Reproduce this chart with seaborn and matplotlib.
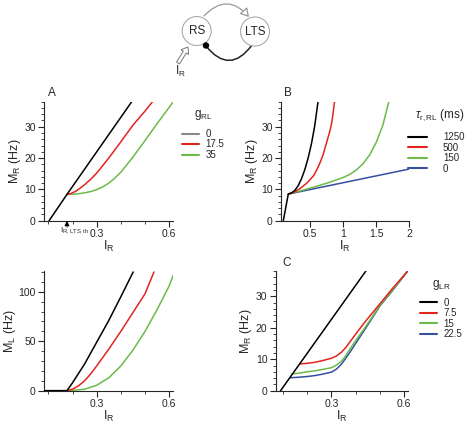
import numpy as np
import pandas as pd
import matplotlib
matplotlib.use("Agg")
import matplotlib.pyplot as plt
import matplotlib.patches as mpatches
from matplotlib.lines import Line2D
from matplotlib.ticker import MultipleLocator
import seaborn as sns

# ---- data ----
# panel A: M_R vs I_R for several g_RL
gRL_labels = ["0", "17.5", "35"]
A_I_0 = [0.103, 0.177, 0.445]
A_M_0 = [0, 8.4, 38]
A_I_175 = [0.177, 0.19, 0.2, 0.215, 0.23, 0.25, 0.275, 0.3, 0.35, 0.4, 0.45, 0.5, 0.531]
A_M_175 = [8.4, 8.6, 8.9, 9.5, 10.3, 11.5, 13.2, 15.2, 20.0, 25.2, 30.5, 35.0, 38.0]
A_I_35 = [0.177, 0.2, 0.225, 0.25, 0.275, 0.3, 0.325, 0.35, 0.375, 0.4, 0.45, 0.5, 0.55, 0.617]
A_M_35 = [8.4, 8.45, 8.6, 8.9, 9.3, 9.9, 10.8, 12.0, 13.6, 15.5, 20.3, 25.6, 31.0, 38.0]

# panel B: M_R vs I_R for several tau_r,RL
tau_labels = ["1250", "500", "150", "0"]
B_I_1250 = [0.095, 0.17, 0.22, 0.27, 0.32, 0.37, 0.42, 0.47, 0.52, 0.57, 0.62]
B_M_1250 = [0, 8.5, 8.9, 9.7, 11.2, 13.4, 16.3, 20.0, 24.5, 30.3, 38.0]
B_I_500 = [0.17, 0.25, 0.35, 0.45, 0.55, 0.6, 0.65, 0.7, 0.75, 0.8, 0.83, 0.87]
B_M_500 = [8.5, 9.0, 10.3, 12.0, 14.3, 16.2, 18.5, 21.3, 25.0, 28.7, 31.6, 38.0]
B_I_150 = [0.17, 0.4, 0.6, 0.8, 1.0, 1.1, 1.2, 1.3, 1.4, 1.5, 1.6, 1.69]
B_M_150 = [8.5, 9.8, 11.0, 12.3, 13.8, 14.8, 16.2, 18.2, 21.0, 25.0, 30.5, 38.0]
B_I_0 = [0.17, 2.0]
B_M_0 = [8.5, 16.5]

# bottom left: M_L vs I_R for g_RL
L_I_0 = [0.082, 0.177, 0.2, 0.25, 0.3, 0.35, 0.4, 0.451]
L_M_0 = [0, 0, 8, 27, 49, 71, 95, 120]
L_I_175 = [0.082, 0.177, 0.2, 0.225, 0.25, 0.275, 0.3, 0.35, 0.4, 0.45, 0.5, 0.537]
L_M_175 = [0, 0, 1.5, 5, 10, 17, 25, 42, 60, 79, 98, 120]
L_I_35 = [0.082, 0.177, 0.2, 0.25, 0.3, 0.35, 0.4, 0.45, 0.5, 0.55, 0.6, 0.617]
L_M_35 = [0, 0, 0.3, 1.5, 5.5, 13, 25, 41, 60, 82, 106, 117]

# panel C: M_R vs I_R for several g_LR
gLR_labels = ["0", "7.5", "15", "22.5"]
C_I_0 = [0.09, 0.442]
C_M_0 = [0, 38]
C_I_75 = [0.169, 0.2, 0.231, 0.26, 0.3, 0.32, 0.341, 0.36, 0.383, 0.41, 0.438, 0.5, 0.55, 0.617]
C_M_75 = [8.5, 8.7, 9.0, 9.5, 10.3, 11.0, 12.2, 13.8, 16.2, 19.0, 21.8, 27.6, 32.3, 38.2]
C_I_15 = [0.135, 0.17, 0.2, 0.231, 0.26, 0.3, 0.32, 0.341, 0.36, 0.383, 0.41, 0.44, 0.5, 0.55, 0.617]
C_M_15 = [5.3, 5.6, 6.0, 6.3, 6.7, 7.3, 8.1, 9.3, 11.2, 14.0, 17.0, 20.2, 27.1, 31.8, 38.2]
C_I_225 = [0.128, 0.17, 0.2, 0.231, 0.26, 0.3, 0.32, 0.341, 0.36, 0.383, 0.41, 0.44, 0.5, 0.55, 0.617]
C_M_225 = [4.1, 4.3, 4.5, 4.8, 5.2, 5.9, 6.8, 8.4, 10.4, 13.0, 16.2, 19.7, 26.9, 31.6, 38.2]

BLACK, RED, GREEN, BLUE = "#000000", "#e3241e", "#6cba4a", "#34509e"

sns.set_theme(style="ticks")
plt.rcParams["font.family"] = ["Liberation Sans", "DejaVu Sans"]
plt.rcParams["mathtext.fontset"] = "custom"
plt.rcParams["mathtext.rm"] = "Liberation Sans"
plt.rcParams["mathtext.it"] = "Liberation Sans:italic"
plt.rcParams["axes.linewidth"] = 0.8
plt.rcParams["xtick.major.width"] = 0.8
plt.rcParams["ytick.major.width"] = 0.8
plt.rcParams["xtick.minor.width"] = 0.6
plt.rcParams["ytick.minor.width"] = 0.6

W, H = 467, 428
fig = plt.figure(figsize=(W / 100, H / 100), dpi=100)


def box(l, t, r, b):
    return [l / W, 1 - b / H, (r - l) / W, (b - t) / H]


def to_df(series):
    rows = []
    for name, xs, ys in series:
        for x, y in zip(xs, ys):
            rows.append((name, x, y))
    return pd.DataFrame(rows, columns=["series", "I", "M"])


def draw(ax, series, colors):
    df = to_df(series)
    names = [s[0] for s in series]
    sns.lineplot(data=df, x="I", y="M", hue="series", hue_order=names,
                 palette=dict(zip(names, colors)), sort=False, estimator=None,
                 legend=False, lw=1.1, ax=ax)
    # black on top, later series below
    for i, ln in enumerate(ax.get_lines()):
        ln.set_zorder(10 - i)
    sns.despine(ax=ax)
    ax.tick_params(axis="both", which="major", length=4, labelsize=7.5, pad=2)
    ax.tick_params(axis="both", which="minor", length=2)
    ax.set_xlabel("I$_\\mathrm{R}$", fontsize=9, labelpad=0)


def add_legend(ax, labels, colors, title, x, y, hl=1.7, pad=0.7, align="center", sep=4):
    handles = [Line2D([], [], color=c, lw=1.5) for c in colors]
    leg = ax.legend(handles, labels, title=title, loc="upper left",
                    bbox_to_anchor=(x / W, 1 - y / H), bbox_transform=fig.transFigure,
                    frameon=False, fontsize=7, title_fontsize=8.5,
                    handlelength=hl, handletextpad=pad, labelspacing=0.05,
                    borderpad=0, borderaxespad=0)
    leg._legend_box.align = align
    leg._legend_box.sep = sep
    return leg


# ---- panel A ----
axA = fig.add_axes(box(44, 101.7, 173.3, 220.7))
draw(axA, [("0", A_I_0, A_M_0), ("17.5", A_I_175, A_M_175), ("35", A_I_35, A_M_35)],
     [BLACK, RED, GREEN])
axA.set_xlim(0.082, 0.617)
axA.set_ylim(0, 38)
axA.set_xticks([0.3, 0.6])
axA.set_xticklabels(["0.3", "0.6"])
axA.xaxis.set_minor_locator(MultipleLocator(0.1))
axA.set_yticks([0, 10, 20, 30])
axA.yaxis.set_minor_locator(MultipleLocator(2))
axA.set_ylabel("M$_\\mathrm{R}$ (Hz)", fontsize=9, labelpad=1)
axA.text(0.150, -0.035, "I$_\\mathrm{R,LTS,th}$", transform=axA.get_xaxis_transform(),
         ha="left", va="top", fontsize=6)
axA.annotate("", xy=(0.177, 0), xycoords=("data", "axes fraction"),
             xytext=(0.177, -0.055), textcoords=("data", "axes fraction"),
             arrowprops=dict(arrowstyle="-|>,head_width=0.12,head_length=0.25",
                             color="black", lw=0.6, shrinkA=0, shrinkB=0))
add_legend(axA, gRL_labels, ["#888888", RED, GREEN], "g$_\\mathrm{RL}$", 182, 108, sep=5)
fig.text(52 / W, 1 - 93 / H, "A", fontsize=8.5, ha="center", va="center")

# ---- panel B ----
axB = fig.add_axes(box(281, 101.7, 409.3, 220.7))
draw(axB, [("1250", B_I_1250, B_M_1250), ("500", B_I_500, B_M_500),
           ("150", B_I_150, B_M_150), ("0", B_I_0, B_M_0)],
     [BLACK, RED, GREEN, BLUE])
axB.set_xlim(0.06, 2.0)
axB.set_ylim(0, 38)
axB.set_xticks([0.5, 1, 1.5, 2])
axB.set_xticklabels(["0.5", "1", "1.5", "2"])
axB.set_yticks([0, 10, 20, 30])
axB.yaxis.set_minor_locator(MultipleLocator(2))
axB.set_ylabel("M$_\\mathrm{R}$ (Hz)", fontsize=9, labelpad=1)
add_legend(axB, tau_labels, [BLACK, RED, GREEN, BLUE],
           "$\\tau_\\mathrm{r,RL}$ (ms)", 408, 107, hl=2.0, pad=1.6, align="right", sep=7)
fig.text(288 / W, 1 - 93 / H, "B", fontsize=8.5, ha="center", va="center")

# ---- bottom left: M_L ----
axL = fig.add_axes(box(44, 271, 173.3, 390.7))
draw(axL, [("0", L_I_0, L_M_0), ("17.5", L_I_175, L_M_175), ("35", L_I_35, L_M_35)],
     [BLACK, RED, GREEN])
axL.set_xlim(0.082, 0.617)
axL.set_ylim(0, 121)
axL.set_xticks([0.3, 0.6])
axL.set_xticklabels(["0.3", "0.6"])
axL.xaxis.set_minor_locator(MultipleLocator(0.1))
axL.set_yticks([0, 50, 100])
axL.yaxis.set_minor_locator(MultipleLocator(10))
axL.set_ylabel("M$_\\mathrm{L}$ (Hz)", fontsize=9, labelpad=0)

# ---- panel C ----
axC = fig.add_axes(box(275.7, 271, 408.3, 390.7))
draw(axC, [("0", C_I_0, C_M_0), ("7.5", C_I_75, C_M_75),
           ("15", C_I_15, C_M_15), ("22.5", C_I_225, C_M_225)],
     [BLACK, RED, GREEN, BLUE])
axC.set_xlim(0.07, 0.617)
axC.set_ylim(0, 38)
axC.set_xticks([0.3, 0.6])
axC.set_xticklabels(["0.3", "0.6"])
axC.xaxis.set_minor_locator(MultipleLocator(0.1))
axC.set_yticks([0, 10, 20, 30])
axC.yaxis.set_minor_locator(MultipleLocator(2))
axC.set_ylabel("M$_\\mathrm{R}$ (Hz)", fontsize=9, labelpad=1)
add_legend(axC, gLR_labels, [BLACK, RED, GREEN, BLUE], "g$_\\mathrm{LR}$", 420, 278)
fig.text(287 / W, 1 - 263 / H, "C", fontsize=8.5, ha="center", va="center")

# ---- circuit sketch at the top ----
ax0 = fig.add_axes([0, 0, 1, 1], zorder=-1)
ax0.set_xlim(0, W)
ax0.set_ylim(H, 0)
ax0.axis("off")
grey = "#999999"
ax0.add_patch(mpatches.FancyArrowPatch((204, 16), (249, 17), connectionstyle="arc3,rad=-0.55",
                                       arrowstyle="-|>,head_width=3,head_length=5",
                                       color=grey, fc="white", lw=0.9, shrinkA=0, shrinkB=0))
ax0.add_patch(mpatches.FancyArrowPatch((206, 46), (252, 45), connectionstyle="arc3,rad=0.65",
                                       arrowstyle="-", color="#222222", lw=1.1,
                                       shrinkA=0, shrinkB=0))
ax0.add_patch(mpatches.Circle((196.7, 31), 14.5, fc="white", ec="#aaaaaa", lw=0.8))
ax0.add_patch(mpatches.Circle((255, 31.5), 14.5, fc="white", ec="#aaaaaa", lw=0.8))
ax0.add_patch(mpatches.Circle((206, 45.5), 2.5, fc="black", ec="black"))
ax0.text(196.7, 31, "RS", ha="center", va="center", fontsize=8.5)
ax0.text(255, 31.5, "LTS", ha="center", va="center", fontsize=8.5)
ax0.add_patch(mpatches.FancyArrow(178, 63, 10, -16, width=3.5, head_width=9, head_length=6,
                                  length_includes_head=True, fc="white", ec="#777777", lw=0.7))
ax0.text(180, 71, "I$_\\mathrm{R}$", ha="center", va="center", fontsize=8.5)

fig.savefig("out.png", dpi=100)
